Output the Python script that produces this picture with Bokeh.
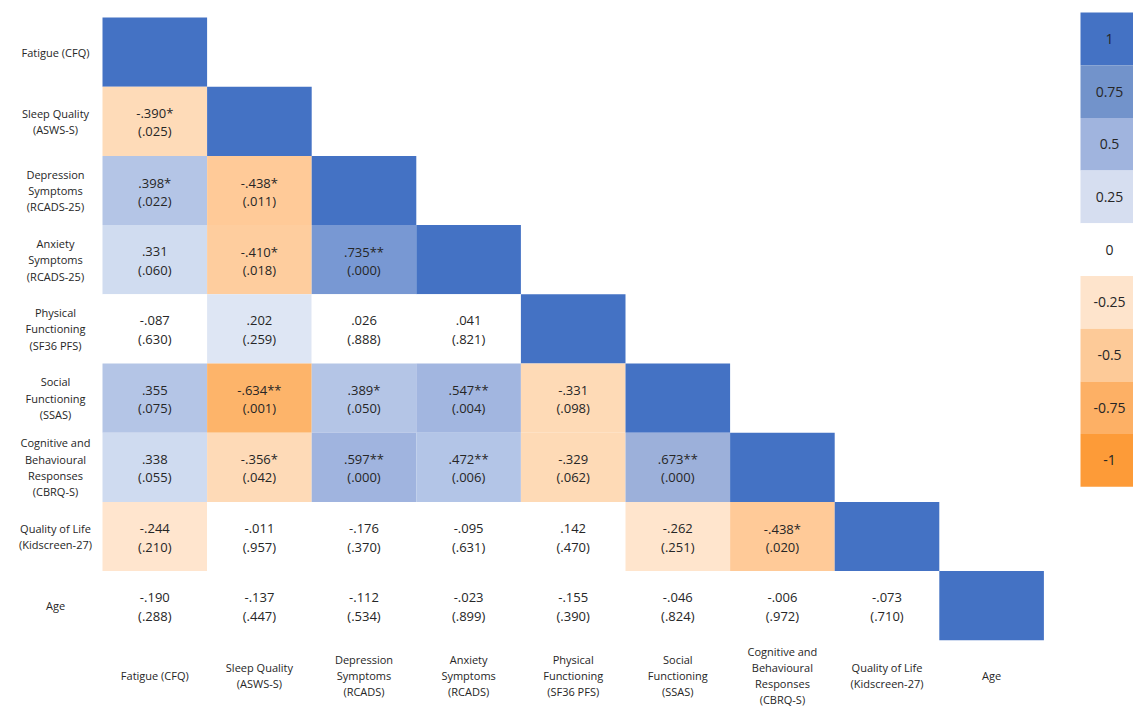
import numpy as np
from bokeh.plotting import figure
from bokeh.models import ColumnDataSource, Range1d, LinearColorMapper
from bokeh.transform import transform
from bokeh.core.properties import value
from bokeh.embed import file_html
from bokeh.resources import INLINE

# ---------------- data ----------------
row_labels = ["Fatigue (CFQ)", "Sleep Quality\n(ASWS-S)", "Depression\nSymptoms\n(RCADS-25)",
              "Anxiety\nSymptoms\n(RCADS-25)", "Physical\nFunctioning\n(SF36 PFS)",
              "Social\nFunctioning\n(SSAS)", "Cognitive and\nBehavioural\nResponses\n(CBRQ-S)",
              "Quality of Life\n(Kidscreen-27)", "Age"]
col_labels = ["Fatigue (CFQ)", "Sleep Quality\n(ASWS-S)", "Depression\nSymptoms\n(RCADS)",
              "Anxiety\nSymptoms\n(RCADS)", "Physical\nFunctioning\n(SF36 PFS)",
              "Social\nFunctioning\n(SSAS)", "Cognitive and\nBehavioural\nResponses\n(CBRQ-S)",
              "Quality of Life\n(Kidscreen-27)", "Age"]

r_rows = [
    [],
    [-0.390],
    [0.398, -0.438],
    [0.331, -0.410, 0.735],
    [-0.087, 0.202, 0.026, 0.041],
    [0.355, -0.634, 0.389, 0.547, -0.331],
    [0.338, -0.356, 0.597, 0.472, -0.329, 0.673],
    [-0.244, -0.011, -0.176, -0.095, 0.142, -0.262, -0.438],
    [-0.190, -0.137, -0.112, -0.023, -0.155, -0.046, -0.006, -0.073],
]
p_rows = [
    [],
    [0.025],
    [0.022, 0.011],
    [0.060, 0.018, 0.000],
    [0.630, 0.259, 0.888, 0.821],
    [0.075, 0.001, 0.050, 0.004, 0.098],
    [0.055, 0.042, 0.000, 0.006, 0.062, 0.000],
    [0.210, 0.957, 0.370, 0.631, 0.470, 0.251, 0.020],
    [0.288, 0.447, 0.534, 0.899, 0.390, 0.824, 0.972, 0.710],
]
star_rows = [
    [],
    ["*"],
    ["*", "*"],
    ["", "*", "**"],
    ["", "", "", ""],
    ["", "**", "*", "**", ""],
    ["", "*", "**", "**", "", "**"],
    ["", "", "", "", "", "", "*"],
    ["", "", "", "", "", "", "", ""],
]
legend_values = [1, 0.75, 0.5, 0.25, 0, -0.25, -0.5, -0.75, -1]
legend_labels = ["1", "0.75", "0.5", "0.25", "0", "-0.25", "-0.5", "-0.75", "-1"]
legend_colors = ["#4472C4", "#7293CB", "#A0B4DE", "#D6DEF0", "#FFFFFF",
                 "#FEE4CC", "#FDCA98", "#FDB065", "#FD9B38"]

# ---------------- colour scale ----------------
anchors = [
    (-1.0, "#FD9B38"), (-0.75, "#FDB065"), (-0.634, "#FDB46A"), (-0.5, "#FDC590"),
    (-0.44, "#FFCA97"), (-0.41, "#FECD9D"), (-0.39, "#FEDBB8"), (-0.33, "#FEDAB6"),
    (-0.26, "#FFE5CD"), (-0.2, "#FFE6CF"), (-0.199, "#FFFFFF"), (0.199, "#FFFFFF"),
    (0.2, "#DEE6F4"), (0.34, "#CFDBF0"), (0.35, "#B4C5E6"), (0.47, "#B4C6E7"),
    (0.547, "#A2B6E0"), (0.6, "#A0B4DF"), (0.673, "#9CB0DA"), (0.735, "#7898D3"),
    (0.99, "#5E84CA"), (0.998, "#4472C4"), (1.0, "#4472C4"),
]
def _rgb(h):
    return np.array([int(h[i:i + 2], 16) for i in (1, 3, 5)], dtype=float)
av = np.array([a[0] for a in anchors])
ac = np.array([_rgb(a[1]) for a in anchors])
N = 2000
centers = -1 + (np.arange(N) + 0.5) * (2.0 / N)
palette = []
for c in centers:
    rgb = [np.interp(c, av, ac[:, k]) for k in range(3)]
    palette.append("#%02X%02X%02X" % tuple(int(round(v)) for v in rgb))
mapper = LinearColorMapper(palette=palette, low=-1, high=1)

def fmt(v):
    s = f"{abs(v):.3f}"[1:]
    return ("-" if v < 0 else "") + s

# ---------------- layout (pixels -> data units) ----------------
W, H = 1133, 707
GX0, GY0, CW, RH = 102.0, 17.0, 104.6, 69.2
def px2x(px):
    return (px - GX0) / CW
def px2y(py):
    return (py - GY0) / RH

xs, ys, vals, t1, t2 = [], [], [], [], []
for i in range(len(row_labels)):
    for j in range(i + 1):
        xs.append(j + 0.5)
        ys.append(i + 0.5)
        if j == i:
            vals.append(1.0); t1.append(""); t2.append("")
        else:
            r = r_rows[i][j]
            vals.append(r)
            t1.append(fmt(r) + star_rows[i][j])
            t2.append("(" + fmt(p_rows[i][j]) + ")")
cells = ColumnDataSource(dict(x=xs, y=ys, v=vals, t1=t1, t2=t2))

p = figure(width=W, height=H, output_backend="svg", toolbar_location=None,
           x_range=Range1d(px2x(0), px2x(W)), y_range=Range1d(px2y(H), px2y(0)),
           min_border=0, min_border_left=0, min_border_right=0,
           min_border_top=0, min_border_bottom=0)
p.axis.visible = False
p.grid.visible = False
p.outline_line_color = None
p.background_fill_color = "white"

p.rect(x="x", y="y", width=1, height=1, source=cells,
       fill_color=transform("v", mapper), line_color=None)

FONT = value("Open Sans")
TXT = "#262626"
p.text(x="x", y="y", text="t1", source=cells, text_font=FONT, text_font_size="13px",
       text_color=TXT, text_align="center", text_baseline="middle", y_offset=-8)
p.text(x="x", y="y", text="t2", source=cells, text_font=FONT, text_font_size="13px",
       text_color=TXT, text_align="center", text_baseline="middle", y_offset=10)

LS = 16.3  # label line spacing in px
def split_lines(labels, xfun, yfun):
    X, Y, T, O = [], [], [], []
    for k, lab in enumerate(labels):
        lines = lab.split("\n")
        n = len(lines)
        for m, ln in enumerate(lines):
            X.append(xfun(k)); Y.append(yfun(k)); T.append(ln)
            O.append((m - (n - 1) / 2.0) * LS)
    return ColumnDataSource(dict(x=X, y=Y, t=T, o=O))

rl = split_lines(row_labels, lambda k: px2x(55), lambda k: k + 0.5)
p.text(x="x", y="y", text="t", source=rl, text_font=FONT, text_font_size="11px",
       text_color=TXT, text_align="center", text_baseline="middle", y_offset="o")

cl = split_lines(col_labels, lambda k: k + 0.5, lambda k: px2y(675))
p.text(x="x", y="y", text="t", source=cl, text_font=FONT, text_font_size="11px",
       text_color=TXT, text_align="center", text_baseline="middle", y_offset="o")

# colour legend
LH = 52.7
LT = 12.0
ly = [px2y(LT + LH * (k + 0.5)) for k in range(len(legend_values))]
leg = ColumnDataSource(dict(x=[px2x(1111)] * len(legend_values), y=ly,
                            c=legend_colors, t=legend_labels, v=legend_values))
p.rect(x="x", y="y", width=62, height=LH, width_units="screen", height_units="screen",
       source=leg, fill_color="c", line_color=None)
p.text(x="x", y="y", text="t", source=leg, text_font=FONT, text_font_size="14px",
       text_color=TXT, text_align="center", text_baseline="middle", x_offset=-2)

open("out.html", "w").write(file_html(p, INLINE))
